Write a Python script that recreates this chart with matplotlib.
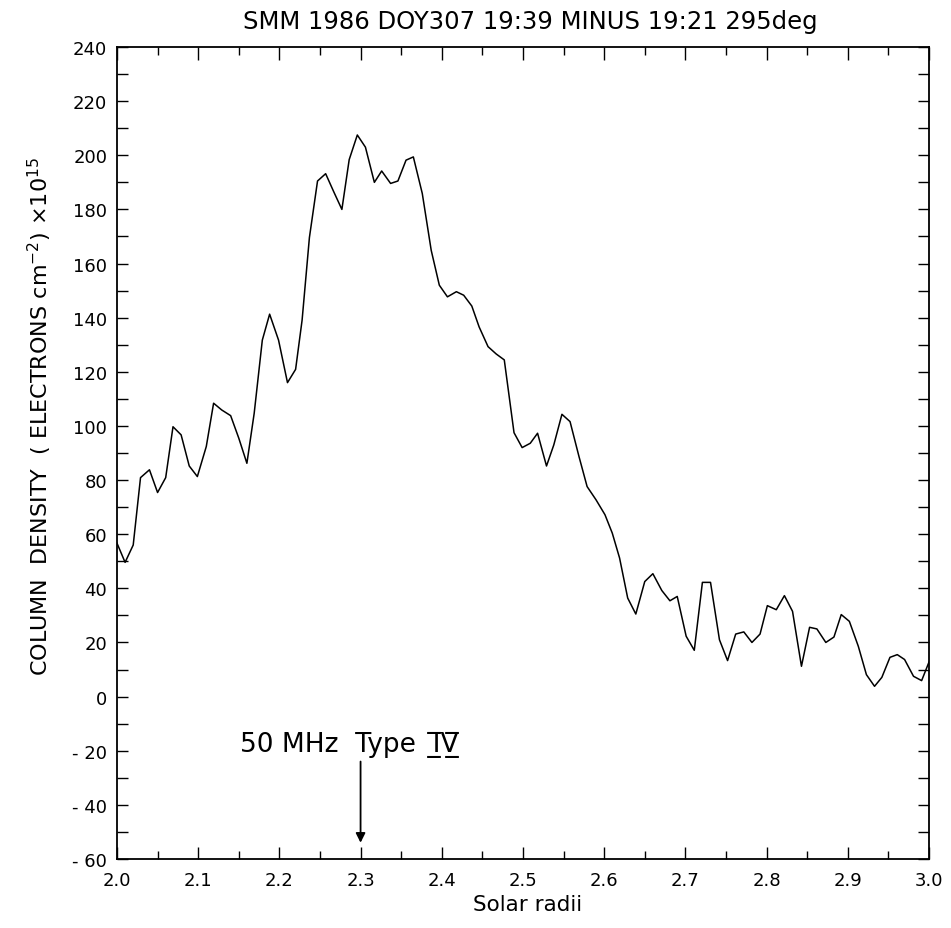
import numpy as np
import matplotlib
matplotlib.use("Agg")
import matplotlib.pyplot as plt
from matplotlib.ticker import MultipleLocator, FixedLocator

# column density difference image, 295 deg position angle
radii = [2.000, 2.010, 2.020, 2.029, 2.040, 2.050, 2.060, 2.069, 2.079, 2.089,
         2.099, 2.110, 2.119, 2.129, 2.140, 2.150, 2.160, 2.169, 2.179, 2.188,
         2.199, 2.210, 2.220, 2.228, 2.237, 2.247, 2.257, 2.267, 2.277, 2.286,
         2.296, 2.306, 2.317, 2.326, 2.337, 2.346, 2.356, 2.365, 2.376, 2.387,
         2.397, 2.407, 2.418, 2.427, 2.437, 2.446, 2.457, 2.467, 2.477, 2.489,
         2.499, 2.509, 2.518, 2.529, 2.538, 2.548, 2.558, 2.569, 2.579, 2.590,
         2.601, 2.610, 2.619, 2.629, 2.639, 2.650, 2.660, 2.671, 2.681, 2.690,
         2.701, 2.711, 2.721, 2.731, 2.742, 2.752, 2.762, 2.772, 2.782, 2.792,
         2.801, 2.812, 2.822, 2.832, 2.843, 2.853, 2.862, 2.873, 2.883, 2.892,
         2.902, 2.913, 2.923, 2.933, 2.942, 2.952, 2.961, 2.970, 2.981, 2.991,
         3.000]
density = [56.7, 49.6, 56.0, 80.9, 83.8, 75.4, 80.9, 99.7, 96.7, 85.2,
           81.3, 92.4, 108.4, 105.9, 103.8, 95.5, 86.2, 104.7, 131.7, 141.3,
           131.7, 116.0, 120.9, 139.1, 169.6, 190.5, 193.2, 186.5, 180.0, 198.4,
           207.5, 203.0, 190.0, 194.2, 189.6, 190.5, 198.2, 199.4, 185.9, 164.9,
           152.0, 147.7, 149.6, 148.3, 144.3, 136.6, 129.3, 126.6, 124.4, 97.5,
           92.0, 93.6, 97.3, 85.2, 93.0, 104.3, 101.6, 88.7, 77.6, 72.7,
           67.2, 60.4, 51.2, 36.4, 30.5, 42.5, 45.4, 39.2, 35.4, 37.0,
           22.3, 17.1, 42.2, 42.2, 21.0, 13.3, 23.1, 23.9, 20.0, 23.1,
           33.6, 32.1, 37.3, 31.5, 11.2, 25.6, 25.0, 20.0, 22.0, 30.3,
           27.8, 18.6, 8.1, 3.8, 7.1, 14.5, 15.5, 13.7, 7.5, 5.9,
           12.7]

xticks = [2.0, 2.1, 2.2, 2.3, 2.4, 2.5, 2.6, 2.7, 2.8, 2.9, 3.0]
yticks = [-60, -40, -20, 0, 20, 40, 60, 80, 100, 120, 140, 160, 180, 200, 220, 240]
ytick_labels = ["- 60", "- 40", "- 20", "0", "20", "40", "60", "80", "100",
                "120", "140", "160", "180", "200", "220", "240"]
burst_radius = 2.3

plt.rcParams['font.family'] = ['DejaVu Sans']

fig = plt.figure(figsize=(9.51, 9.29), dpi=100)
ax = fig.add_axes([0.123, 0.0743, 0.8538, 0.874])

ax.plot(radii, density, color='black', lw=1.1)

ax.set_xlim(2.0, 3.0)
ax.set_ylim(-60, 240)
ax.xaxis.set_major_locator(FixedLocator(xticks))
ax.xaxis.set_minor_locator(MultipleLocator(0.05))
ax.yaxis.set_major_locator(FixedLocator(yticks))
ax.yaxis.set_minor_locator(MultipleLocator(10))
ax.set_xticklabels(["%.1f" % t for t in xticks])
ax.set_yticklabels(ytick_labels)
ax.tick_params(which='both', direction='in', top=True, right=True,
               labelsize=13, width=1.0)
ax.tick_params(axis='x', which='major', length=9, pad=9)
ax.tick_params(axis='x', which='minor', length=6)
ax.tick_params(axis='y', which='both', length=8, pad=7)
for s in ax.spines.values():
    s.set_linewidth(1.3)

fig.text(0.558, 0.976, "SMM 1986 DOY307 19:39 MINUS 19:21 295deg",
         ha='center', va='center', fontsize=17.5)
fig.text(0.042, 0.552, "COLUMN  DENSITY  ( ELECTRONS cm$^{-2}$) $\\times$10$^{15}$",
         rotation=90, ha='center', va='center', fontsize=16)
fig.text(0.555, 0.026, "Solar radii", ha='center', va='center', fontsize=15.5)

ax.text(2.152, -20, "50 MHz  Type  I\u0332\u0305V\u0332\u0305", ha='left',
        va='baseline', fontsize=19)
ax.annotate('', xy=(burst_radius, -54), xytext=(burst_radius, -24),
            arrowprops=dict(arrowstyle='-|>', color='black', lw=1.3,
                            mutation_scale=14, shrinkA=0, shrinkB=0))

fig.savefig("out.png", dpi=100)
